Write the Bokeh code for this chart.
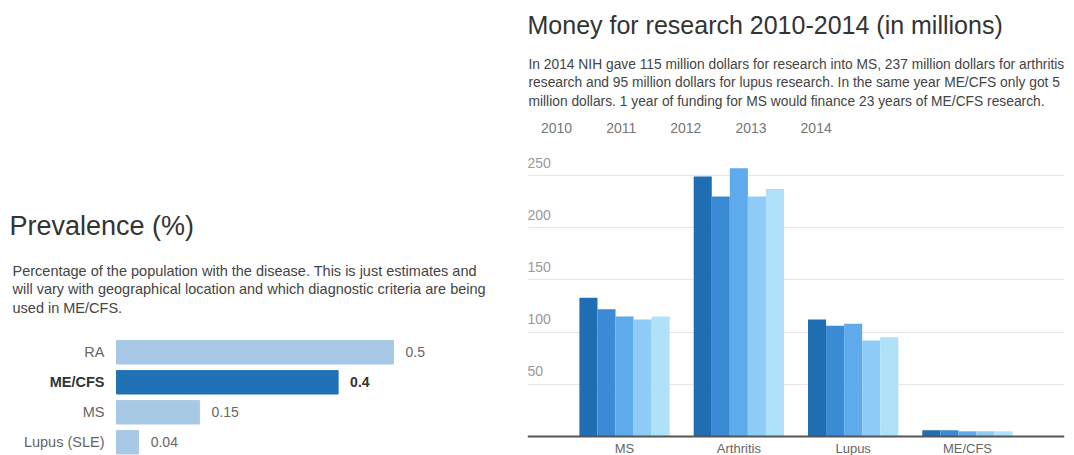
from bokeh.plotting import figure
from bokeh.models import (FactorRange, Range1d, ColumnDataSource, Title, Legend, LegendItem,
                          FixedTicker, Span)
from bokeh.transform import dodge
from bokeh.layouts import row, column
from bokeh.embed import file_html
from bokeh.resources import INLINE
from bokeh.core.properties import value

FONT = "Liberation Sans"

# ---------------- data ----------------
prev_categories = ["RA", "ME/CFS", "MS", "Lupus (SLE)"]
prev_values = [0.5, 0.4, 0.15, 0.04]
prev_labels = ["0.5", "0.4", "0.15", "0.04"]
prev_highlight = [False, True, False, False]

fund_categories = ["MS", "Arthritis", "Lupus", "ME/CFS"]
years = ["2010", "2011", "2012", "2013", "2014"]
fund_2010 = [133, 249, 112, 6]
fund_2011 = [122, 230, 106, 6]
fund_2012 = [115, 257, 108, 5]
fund_2013 = [112, 230, 92, 5]
fund_2014 = [115, 237, 95, 5]
y_ticks = [50, 100, 150, 200, 250]

left_title = "Prevalence (%)"
left_sub = ["Percentage of the population with the disease. This is just estimates and",
            "will vary with geographical location and which diagnostic criteria are being",
            "used in ME/CFS."]
right_title = "Money for research 2010-2014 (in millions)"
right_sub = ["In 2014 NIH gave 115 million dollars for research into MS, 237 million dollars for arthritis",
             "research and 95 million dollars for lupus research. In the same year ME/CFS only got 5",
             "million dollars. 1 year of funding for MS would finance 23 years of ME/CFS research."]

# ---------------- left chart ----------------
LIGHT = "#a8c9e5"
DARK = "#2171b5"
lsrc = ColumnDataSource(dict(
    cat=prev_categories,
    val=prev_values,
    lab=prev_labels,
    color=[DARK if h else LIGHT for h in prev_highlight],
    fstyle=["bold" if h else "normal" for h in prev_highlight],
    tcolor=["#333333" if h else "#666666" for h in prev_highlight],
))

pl = figure(width=512, height=455, output_backend="svg", toolbar_location=None,
            x_range=Range1d(-0.2094, 0.7148), y_range=FactorRange(*reversed(prev_categories)),
            min_border_left=0, min_border_right=0, min_border_top=335, min_border_bottom=0)
pl.outline_line_color = None
pl.xaxis.visible = False
pl.yaxis.visible = False
pl.xgrid.visible = False
pl.ygrid.visible = False

ycat = dodge("cat", -0.06, range=pl.y_range)
pl.hbar(y=ycat, left=0, right="val", height=0.78, color="color", source=lsrc)
pl.text(x=0, y=ycat, text="cat", x_offset=-12, text_align="right", text_baseline="middle",
        text_font=value(FONT), text_font_size="14.5px", text_font_style="fstyle",
        text_color="tcolor", source=lsrc)
pl.text(x="val", y=ycat, text="lab", x_offset=12, text_align="left", text_baseline="middle",
        text_font=value(FONT), text_font_size="14px", text_font_style="fstyle",
        text_color="tcolor", source=lsrc)

pl.add_layout(Title(text="\n".join(left_sub), text_font=FONT, text_font_size="14.5px",
                    text_font_style="normal", text_color="#444444", text_line_height=1.17,
                    offset=12, standoff=39), "above")
pl.add_layout(Title(text=left_title, text_font=FONT, text_font_size="27px",
                    text_font_style="normal", text_color="#333333",
                    offset=9, standoff=2), "above")

# ---------------- right chart ----------------
LEFT_PAD = 0.349
colors = ["#1f6db2", "#3b8bd4", "#5eaaeb", "#8ecbf7", "#afe2f8"]
series = [fund_2010, fund_2011, fund_2012, fund_2013, fund_2014]
rsrc = ColumnDataSource(dict(cat=fund_categories, **{y: s for y, s in zip(years, series)}))

pr = figure(width=562, height=455, output_backend="svg", toolbar_location=None,
            x_range=FactorRange(*fund_categories, range_padding=LEFT_PAD * 2 / len(fund_categories)),
            y_range=Range1d(-18.2, 302.7),
            min_border_left=15, min_border_right=10, min_border_top=120, min_border_bottom=0)
pr.outline_line_color = None
pr.xaxis.visible = False
pr.yaxis.visible = False
pr.xgrid.visible = False
pr.ygrid.ticker = FixedTicker(ticks=y_ticks)
pr.ygrid.grid_line_color = "#e6e6e6"

BAR_W = 0.158
items = []
for i, (yr, col) in enumerate(zip(years, colors)):
    off = (i - 2) * BAR_W
    r = pr.vbar(x=dodge("cat", off, range=pr.x_range), top=yr, width=BAR_W, color=col,
                line_color=None, source=rsrc)
    items.append(LegendItem(label=yr, renderers=[r]))

pr.add_layout(Span(location=0, dimension="width", line_color="#555555", line_width=2))

csrc = ColumnDataSource(dict(cat=fund_categories, y=[0] * len(fund_categories)))
pr.text(x="cat", y="y", text="cat", y_offset=4, text_align="center", text_baseline="top",
        text_font=value(FONT), text_font_size="13px", text_color="#666666", source=csrc)

tsrc = ColumnDataSource(dict(y=y_ticks, t=[str(v) for v in y_ticks], x=[-LEFT_PAD] * len(y_ticks)))
pr.text(x="x", y="y", text="t", y_offset=-8, text_align="left", text_baseline="bottom",
        text_font=value(FONT), text_font_size="14px", text_color="#999999", source=tsrc)

legend = Legend(items=items, orientation="horizontal", location="top_left",
                glyph_width=0, glyph_height=14, label_standoff=14, spacing=20,
                padding=0, margin=0, border_line_alpha=0, background_fill_alpha=0,
                label_text_font=FONT, label_text_font_size="14px", label_text_color="#777777")
pr.add_layout(legend)
pr.add_layout(Title(text="\n".join(right_sub), text_font=FONT, text_font_size="13.8px",
                    text_font_style="normal", text_color="#444444", text_line_height=1.25,
                    offset=1, standoff=23), "above")
pr.add_layout(Title(text=right_title, text_font=FONT, text_font_size="25px",
                    text_font_style="normal", text_color="#333333",
                    offset=0, standoff=7), "above")

layout = row(column(pl), column(pr))
open("out.html", "w").write(file_html(layout, INLINE))
